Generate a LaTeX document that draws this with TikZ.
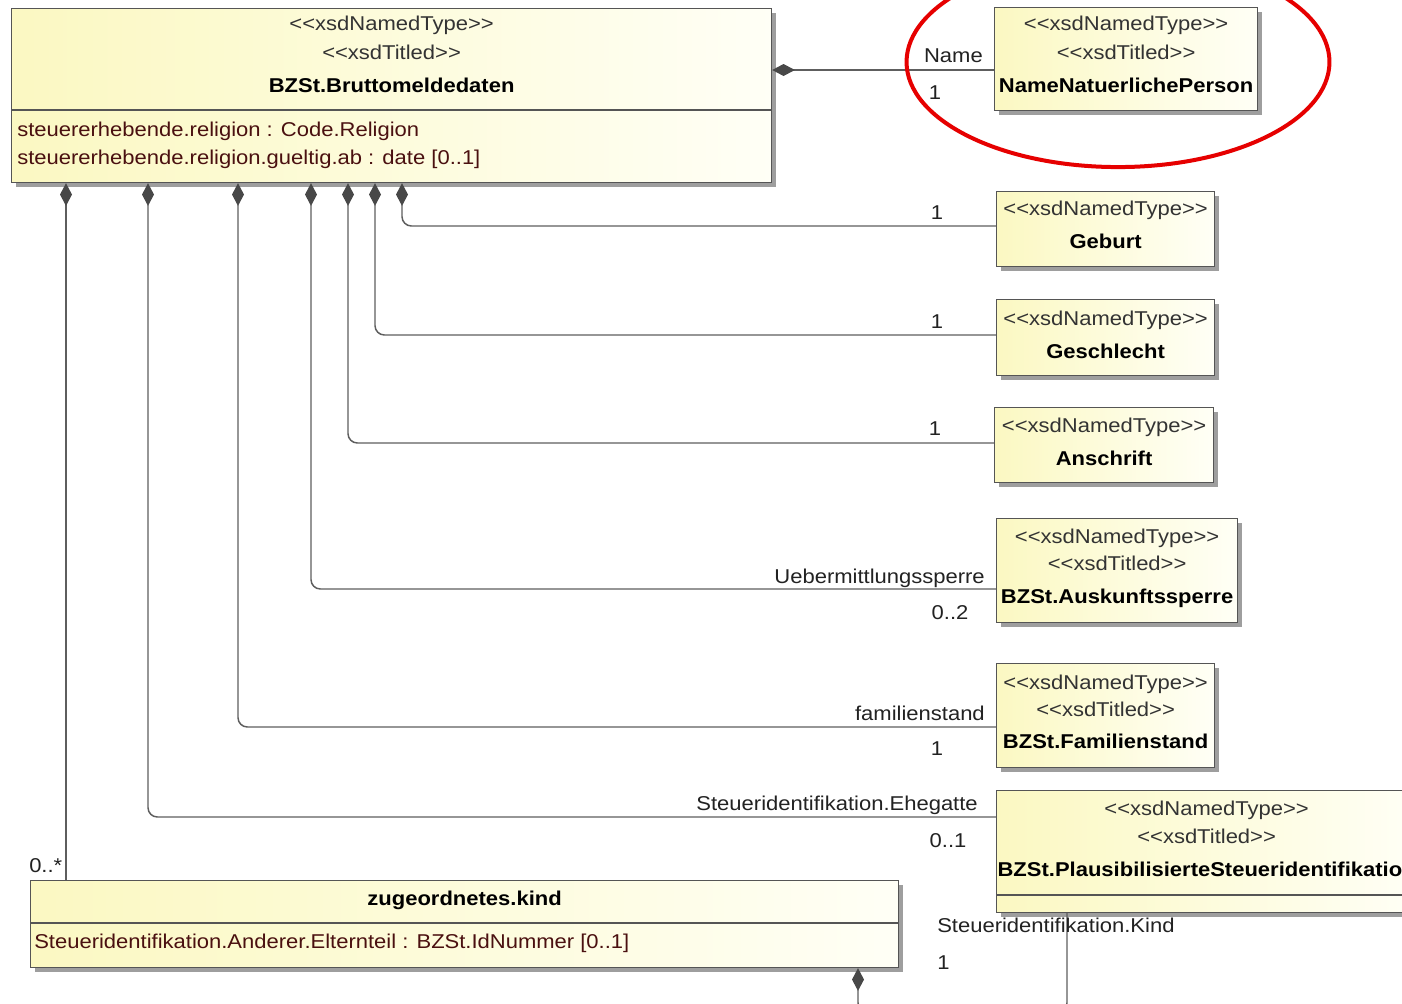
\documentclass[tikz,border=0pt]{standalone}
\usepackage{fontspec}
\setmainfont{Liberation Sans}[FakeStretch=1.1]
\usetikzlibrary{arrows.meta,shadows}
\definecolor{ylw}{HTML}{FBF8C2}
\definecolor{wht}{HTML}{FFFFF6}
\definecolor{bord}{HTML}{555555}
\definecolor{lnc}{HTML}{5E5E5E}
\definecolor{dia}{HTML}{484848}
\definecolor{attr}{HTML}{4A1010}
\definecolor{txt}{HTML}{222222}
\definecolor{hlred}{HTML}{E60000}
\newcommand{\stNT}{<{}<xsdNamedType>{}>}
\newcommand{\stTi}{<{}<xsdTitled>{}>}
\begin{document}
\begin{tikzpicture}[x=0.75pt,y=-0.75pt,
  cls/.style 2 args={rectangle, draw=bord, line width=0.9pt, left color=ylw, right color=wht,
    anchor=north west, inner sep=0pt, minimum width=#1*0.75pt, minimum height=#2*0.75pt,
    drop shadow={shadow xshift=3pt,shadow yshift=-3pt,opacity=0.38,fill=black}},
  sepline/.style={draw=bord, line width=0.9pt},
  comp/.style={draw=lnc, line width=1.1pt, rounded corners=7pt,
    {Diamond[length=17pt,width=9pt,color=dia]}-},
  tx/.style={inner sep=0pt, anchor=base, text=txt, font=\fontsize{15pt}{18pt}\selectfont},
  st/.style={tx, text=black!80},
  ttl/.style={tx, text=black, font=\fontsize{15pt}{18pt}\selectfont\bfseries},
  attrtxt/.style={tx, anchor=base west, text=attr},
  lr/.style={tx, anchor=base east},
  ll/.style={tx, anchor=base west}
]
\useasboundingbox (0,0) rectangle (1402,1003);
\clip (0,0) rectangle (1402,1003);
\fill[white] (0,0) rectangle (1402,1003);

% ---------- classes ----------
\node[cls={760}{174}] (main) at (11,8) {};
\draw[sepline] (main.west |- 0,110) -- (main.east |- 0,110);
\node[st] (mainS1) at (main.north |- 0,31) {\stNT};
\node[st] (mainS2) at (main.north |- 0,59) {\stTi};
\node[ttl] (mainT) at (main.north |- 0,92) {BZSt.Bruttomeldedaten};
\node[attrtxt] (mainA1) at (17,136) {steuererhebende.religion : Code.Religion};
\node[attrtxt] (mainA2) at (17,164) {steuererhebende.religion.gueltig.ab : date [0..1]};

\node[cls={263}{103}] (nnp) at (994,7) {};
\node[st] (nnpS1) at (nnp.north |- 0,31) {\stNT};
\node[st] (nnpS2) at (nnp.north |- 0,59) {\stTi};
\node[ttl] (nnpT) at (nnp.north |- 0,92) {NameNatuerlichePerson};

\node[cls={218}{75}] (geb) at (996,191) {};
\node[st] (gebS) at (geb.north |- 0,215) {\stNT};
\node[ttl] (gebT) at (geb.north |- 0,248) {Geburt};

\node[cls={218}{76}] (ges) at (996,299) {};
\node[st] (gesS) at (ges.north |- 0,325) {\stNT};
\node[ttl] (gesT) at (ges.north |- 0,358) {Geschlecht};

\node[cls={219}{75}] (ans) at (994,407) {};
\node[st] (ansS) at (ans.north |- 0,432) {\stNT};
\node[ttl] (ansT) at (ans.north |- 0,465) {Anschrift};

\node[cls={241}{104}] (aus) at (996,518) {};
\node[st] (ausS1) at (aus.north |- 0,543) {\stNT};
\node[st] (ausS2) at (aus.north |- 0,570) {\stTi};
\node[ttl] (ausT) at (aus.north |- 0,603) {BZSt.Auskunftssperre};

\node[cls={218}{104}] (fam) at (996,663) {};
\node[st] (famS1) at (fam.north |- 0,689) {\stNT};
\node[st] (famS2) at (fam.north |- 0,716) {\stTi};
\node[ttl] (famT) at (fam.north |- 0,748) {BZSt.Familienstand};

\node[cls={420}{122}] (pla) at (996,790) {};
\draw[sepline] (pla.west |- 0,895) -- (pla.east |- 0,895);
\node[st] (plaS1) at (pla.north |- 0,815) {\stNT};
\node[st] (plaS2) at (pla.north |- 0,843) {\stTi};
\node[ttl] (plaT) at (pla.north |- 0,876) {BZSt.PlausibilisierteSteueridentifikation};

\node[cls={868}{87}] (kind) at (30,880) {};
\draw[sepline] (kind.west |- 0,923) -- (kind.east |- 0,923);
\node[ttl] (kindT) at (kind.north |- 0,905) {zugeordnetes.kind};
\node[attrtxt] (kindA) at (34,948) {Steueridentifikation.Anderer.Elternteil : BZSt.IdNummer [0..1]};

% ---------- connectors ----------
\draw[comp] (main.east |- 0,70) -- (nnp.west |- 0,70);
\draw[comp] (main.south -| 402,0) |- (geb.west |- 0,226);
\draw[comp] (main.south -| 375,0) |- (ges.west |- 0,335);
\draw[comp] (main.south -| 348,0) |- (ans.west |- 0,443);
\draw[comp] (main.south -| 311,0) |- (aus.west |- 0,589);
\draw[comp] (main.south -| 238,0) |- (fam.west |- 0,727);
\draw[comp] (main.south -| 148,0) |- (pla.west |- 0,817);
\draw[comp] (main.south -| 66,0) -- (kind.north -| 66,0);
\coordinate (kb1) at (858,1012);
\coordinate (kb2) at (1067,1012);
\draw[comp] (kind.south -| 858,0) -- (kb1) -- (kb2) -- (pla.south -| 1067,0);

% ---------- role / multiplicity labels ----------
\node[lr] (lName) at (983,62) {Name};
\node[tx] (mName) at (935,99) {1};
\node[tx] (mGeb) at (937,219) {1};
\node[tx] (mGes) at (937,328) {1};
\node[tx] (mAns) at (935,435) {1};
\node[lr] (lAus) at (985,583) {Uebermittlungssperre};
\node[tx] (mAus) at (950,619) {0..2};
\node[lr] (lFam) at (985,720) {familienstand};
\node[tx] (mFam) at (937,755) {1};
\node[lr] (lPla) at (978,810) {Steueridentifikation.Ehegatte};
\node[tx] (mPla) at (948,847) {0..1};
\node[ll] (lKind) at (937,932) {Steueridentifikation.Kind};
\node[ll] (mKind) at (937,969) {1};
\node[ll] (mKid) at (29,872) {0..*};

% ---------- highlight ----------
\draw[hlred, line width=3pt] (1118,62) ellipse [x radius=158.6pt, y radius=78.8pt];
\end{tikzpicture}
\end{document}
